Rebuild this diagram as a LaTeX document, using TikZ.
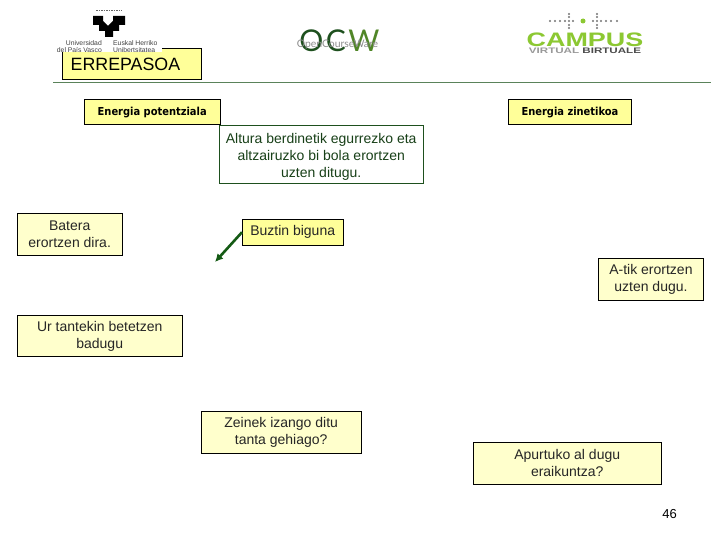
\documentclass[tikz,border=0pt]{standalone}
\usepackage{fontspec}
\setmainfont{Liberation Sans}
\newfontfamily\titlefont{DejaVu Sans Condensed}
\newfontfamily\logofont{Lato}
\usetikzlibrary{arrows.meta, positioning}
\definecolor{horia}{RGB}{255,255,153}
\definecolor{horiargi}{RGB}{255,255,204}
\definecolor{berdea}{RGB}{30,80,30}
\definecolor{geziakolore}{RGB}{20,90,20}
\definecolor{marra}{RGB}{90,130,90}
\definecolor{campus}{RGB}{140,200,50}
\tikzset{
  kutxa/.style={rectangle, draw=black, fill=horiargi, line width=0.9pt, anchor=north west,
    align=center, inner sep=0pt, text=black!85, font=\fontsize{14}{17}\selectfont},
  kutxah/.style={kutxa, fill=horia},
  izenburu/.style={kutxah, text=black, font=\titlefont\bfseries\fontsize{11}{13}\selectfont},
  galdera/.style={kutxa, fill=white, draw=berdea, text=berdea!80!black},
  gezia/.style={-{Latex[length=8pt,width=8pt]}, line width=2.6pt, color=geziakolore},
  logotxt/.style={font=\fontsize{6.8}{7.6}\selectfont, inner sep=0pt, text=black!75},
  puntu/.style={circle, fill=black!55, inner sep=0pt, minimum size=2.2pt}
}
\begin{document}
\begin{tikzpicture}[x=1pt, y=-1pt]
  \useasboundingbox (0,0) rectangle (720,540);
  \fill[white] (0,0) rectangle (720,540);
  % izenburua
  \node[kutxah, minimum width=139pt, minimum height=31pt, text=black, font=\fontsize{17.8}{18}\selectfont] (errepaso) at (62,48)
    {\hspace{-13pt}ERREPASOA};
  \draw[marra, line width=0.8pt] (53,82) -- (711,82);
  % logo UPV
  \fill[white] (55,4) rectangle (162,52.5);
  \fill[black] (93,16) -- (103,16) -- (103,21) -- (108,26) -- (113,21) -- (113,16) -- (125,16)
    -- (125,25) -- (119,25) -- (119,31) -- (113,31) -- (113,37) -- (105,37) -- (105,31) -- (99,31) -- (99,25) -- (93,25) -- cycle;
  \draw[black!60, line width=1pt, dash pattern=on 1.5pt off 1pt] (96,11) -- (122,11);
  \node[logotxt, align=right, anchor=east] (upv) at (102,46.5) {Universidad\\del País Vasco};
  \node[logotxt, align=left, right=11pt of upv] (ehu) {Euskal Herriko\\Unibertsitatea};
  % logo OCW
  \node[font=\logofont\fontsize{30}{30}\selectfont, text=berdea, inner sep=0pt] (ocw) at (339.5,41)
    {O\hspace{2.5pt}C\hspace{2.5pt}\textcolor{berdea!55!campus}{W}};
  \node[font=\logofont\fontsize{10.4}{12}\selectfont, text=black!45, inner sep=0pt] (ocwtxt) at (337.5,45) {OpenCourseWare};
  % logo campus
  \node[font=\bfseries\fontsize{19.5}{20}\selectfont, text=campus, inner sep=0pt] (campusi) at (585,40)
    {\scalebox{1.38}[1]{CAMPUS}};
  \node[font=\bfseries\fontsize{8}{8}\selectfont, text=black!70, inner sep=0pt, below=1pt of campusi] (birtual)
    {\scalebox{1.45}[1]{\textcolor{black!40}{VIRTUAL} BIRTUALE}};
  \foreach \x in {550,555,560,565,569,573,593,597,601,606,611,617}
    \node[puntu] at (\x,21) {};
  \foreach \x/\y in {569/14,569/17,569/25,569/28,597/14,597/17,597/25,597/28}
    \node[puntu] at (\x,\y) {};
  \node[puntu, fill=campus, minimum size=5pt] at (583,21) {};
  % kutxak
  \node[izenburu, minimum width=135.5pt, minimum height=25.5pt] (potentzial) at (84,99) {Energia potentziala};
  \node[izenburu, minimum width=123pt, minimum height=25.5pt] (zinetiko) at (508,99) {Energia zinetikoa};
  \node[galdera, minimum width=204.5pt, minimum height=58pt] (altura) at (218.5,125)
    {\rule{0pt}{15pt}Altura berdinetik egurrezko eta\\altzairuzko bi bola erortzen\\uzten ditugu.};
  \node[kutxa, minimum width=104.5pt, minimum height=41.5pt] (batera) at (17,213) {Batera\\erortzen dira.};
  \node[kutxah, minimum width=100.5pt, minimum height=25.5pt] (buztin) at (242,219) {Buztin biguna};
  \coordinate (geziamuga) at (215,262);
  \draw[gezia] (buztin.west) -- (geziamuga);
  \node[kutxa, minimum width=105pt, minimum height=42pt] (atik) at (598,258) {A-tik erortzen\\uzten dugu.};
  \node[kutxa, minimum width=164.5pt, minimum height=41pt] (ur) at (17,315) {Ur tantekin betetzen\\badugu};
  \node[kutxa, minimum width=159.5pt, minimum height=42pt] (zeinek) at (201,411) {Zeinek izango ditu\\tanta gehiago?};
  \node[kutxa, minimum width=187.5pt, minimum height=42pt] (apurtu) at (473,442) {Apurtuko al dugu\\eraikuntza?};
  \node[font=\fontsize{13}{15}\selectfont, inner sep=0pt] (orria) at (669.5,514) {46};
\end{tikzpicture}
\end{document}
